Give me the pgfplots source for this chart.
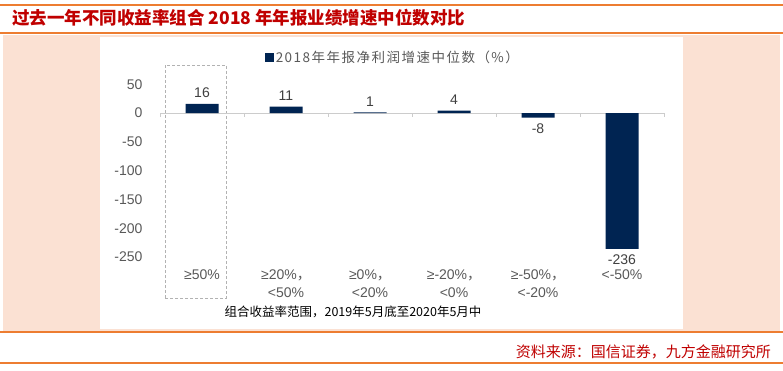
\documentclass[border=0pt]{standalone}
\usepackage{pgfplots}
\pgfplotsset{compat=1.18}
\usepackage{fontspec}
\setmainfont{Liberation Sans}
\newfontfamily\cjk{Noto Sans CJK SC}
\definecolor{navy}{HTML}{002452}
\definecolor{peach}{HTML}{FBE1D3}
\definecolor{orangeline}{HTML}{ED7D31}
\definecolor{titlered}{HTML}{C00000}
\definecolor{txt}{HTML}{595959}
\definecolor{valtxt}{HTML}{404040}
\begin{document}
\begin{tikzpicture}[x=1pt,y=1pt]
\useasboundingbox (0,0) rectangle (783,370);
\fill[white] (0,0) rectangle (783,370);
\draw[orangeline, line width=1.5pt] (0,365) -- (783,365);
\node[anchor=west, text=titlered, font=\cjk\bfseries\fontsize{17.5}{20}\selectfont, inner sep=0] at (12,352) {过去一年不同收益率组合 2018 年年报业绩增速中位数对比};
\draw[orangeline, line width=1.5pt] (0,337) -- (783,337);
\fill[peach] (3,39) rectangle (780,335);
\fill[white] (100,41) rectangle (683,333);
\draw[orangeline, line width=1.5pt] (0,38) -- (783,38);
\node[anchor=east, text=titlered, font=\cjk\fontsize{15}{18}\selectfont, inner sep=0] at (771,18) {资料来源：国信证券，九方金融研究所};
\draw[orangeline, line width=1.5pt] (0,7) -- (783,7);
\draw[gray!60, dash pattern=on 3pt off 2pt, line width=0.8pt] (165,72) rectangle (226,305);
\coordinate (axisorigin) at (160pt,113pt);
\begin{axis}[
  at={(axisorigin)}, anchor=south west,
  scale only axis, width=504pt, height=190.08pt,
  xmin=-0.5, xmax=5.5, ymin=-250, ymax=80,
  ybar, bar width=33pt,
  axis line style={draw=none},
  tick style={draw=none},
  /pgf/number format/assume math mode=true,
  ytick={-250,-200,-150,-100,-50,0,50},
  yticklabel style={font=\fontsize{14}{16}\selectfont, text=txt, anchor=east, xshift=-14pt},
  xtick={0,1,2,3,4,5},
  xticklabels={{≥50\%},{≥20\%{\cjk ，}\\<50\%},{≥0\%{\cjk ，}\\<20\%},{≥-20\%{\cjk ，}\\<0\%},{≥-50\%{\cjk ，}\\<-20\%},{<-50\%}},
  xticklabel style={font=\fontsize{14}{18}\selectfont, text=txt, align=center, anchor=north, yshift=-5pt},
  xlabel={组合收益率范围，2019年5月底至2020年5月中},
  xlabel style={at={(0.383,-0.289)}, anchor=center, font=\cjk\fontsize{12.5}{15}\selectfont, text=black},
  nodes near coords,
  every node near coord/.append style={font=\fontsize{14}{16}\selectfont, text=valtxt, inner ysep=6pt},
  legend style={at={(0.462,1.052)}, anchor=center, draw=none, fill=none, font=\cjk\addfontfeature{LetterSpace=11}\fontsize{13.5}{16}\selectfont, text=txt},
  legend image code/.code={\fill[navy] (0pt,-4.5pt) rectangle (9pt,4.5pt);},
  clip=false,
]
\draw[gray!40, line width=0.8pt] (axis cs:-0.5,0) -- (axis cs:5.5,0);
\pgfplotsinvokeforeach{-0.5,0.5,1.5,2.5,3.5,4.5,5.5}{
  \draw[gray!40, line width=0.8pt] (axis cs:#1,0) -- ([yshift=-4pt]axis cs:#1,0);
}
\addplot[fill=navy, draw=none] coordinates {(0,16) (1,11) (2,1) (3,4) (4,-8) (5,-236)};
\addlegendentry{2018年年报净利润增速中位数（\%）}
\end{axis}
\end{tikzpicture}
\end{document}
